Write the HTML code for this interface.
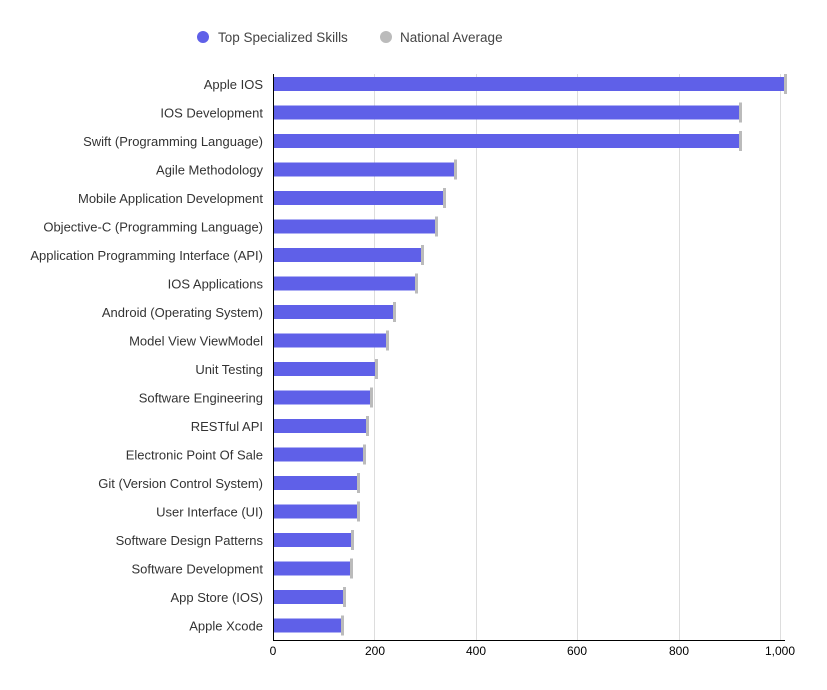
<!DOCTYPE html>
<html><head><style>
body{margin:0;background:#fff;}
svg text{font-family:"Liberation Sans",sans-serif;}
</style></head><body>
<svg width="827" height="685" xmlns="http://www.w3.org/2000/svg">
<circle cx="203" cy="37" r="6" fill="#5f60e8"/>
<text x="218" y="42" font-size="13.5" fill="#444">Top Specialized Skills</text>
<circle cx="386" cy="37" r="6" fill="#bbb"/>
<text x="400" y="42" font-size="13.5" fill="#444">National Average</text>
<g stroke="#ddd" stroke-width="1">
<line x1="374.5" y1="74" x2="374.5" y2="640"/>
<line x1="476.5" y1="74" x2="476.5" y2="640"/>
<line x1="577.5" y1="74" x2="577.5" y2="640"/>
<line x1="679.5" y1="74" x2="679.5" y2="640"/>
<line x1="780.5" y1="74" x2="780.5" y2="640"/>
</g>
<line x1="273.5" y1="74" x2="273.5" y2="641" stroke="#000"/>
<line x1="273" y1="640.5" x2="785" y2="640.5" stroke="#000"/>
<g font-size="12" fill="#000" text-anchor="middle">
<text x="273" y="655">0</text><text x="375" y="655">200</text><text x="476" y="655">400</text><text x="577" y="655">600</text><text x="679" y="655">800</text><text x="780" y="655">1,000</text>
</g>
<g font-size="13" fill="#333" text-anchor="end">
<text x="263" y="89">Apple IOS</text>
<text x="263" y="117.5">IOS Development</text>
<text x="263" y="146">Swift (Programming Language)</text>
<text x="263" y="174.5">Agile Methodology</text>
<text x="263" y="203">Mobile Application Development</text>
<text x="263" y="231.5">Objective-C (Programming Language)</text>
<text x="263" y="260">Application Programming Interface (API)</text>
<text x="263" y="288.5">IOS Applications</text>
<text x="263" y="317">Android (Operating System)</text>
<text x="263" y="345.5">Model View ViewModel</text>
<text x="263" y="374">Unit Testing</text>
<text x="263" y="402.5">Software Engineering</text>
<text x="263" y="431">RESTful API</text>
<text x="263" y="459.5">Electronic Point Of Sale</text>
<text x="263" y="488">Git (Version Control System)</text>
<text x="263" y="516.5">User Interface (UI)</text>
<text x="263" y="545">Software Design Patterns</text>
<text x="263" y="573.5">Software Development</text>
<text x="263" y="602">App Store (IOS)</text>
<text x="263" y="630.5">Apple Xcode</text>
</g>
<g>
<rect x="274" y="77" width="510" height="14" fill="#5f60e8"/><rect x="784" y="74" width="3" height="20" fill="#bbb"/>
<rect x="274" y="105.5" width="465" height="14" fill="#5f60e8"/><rect x="739" y="102.5" width="3" height="20" fill="#bbb"/>
<rect x="274" y="134" width="465" height="14" fill="#5f60e8"/><rect x="739" y="131" width="3" height="20" fill="#bbb"/>
<rect x="274" y="162.5" width="180" height="14" fill="#5f60e8"/><rect x="454" y="159.5" width="3" height="20" fill="#bbb"/>
<rect x="274" y="191" width="169" height="14" fill="#5f60e8"/><rect x="443" y="188" width="3" height="20" fill="#bbb"/>
<rect x="274" y="219.5" width="161" height="14" fill="#5f60e8"/><rect x="435" y="216.5" width="3" height="20" fill="#bbb"/>
<rect x="274" y="248" width="147" height="14" fill="#5f60e8"/><rect x="421" y="245" width="3" height="20" fill="#bbb"/>
<rect x="274" y="276.5" width="141" height="14" fill="#5f60e8"/><rect x="415" y="273.5" width="3" height="20" fill="#bbb"/>
<rect x="274" y="305" width="119" height="14" fill="#5f60e8"/><rect x="393" y="302" width="3" height="20" fill="#bbb"/>
<rect x="274" y="333.5" width="112" height="14" fill="#5f60e8"/><rect x="386" y="330.5" width="3" height="20" fill="#bbb"/>
<rect x="274" y="362" width="101" height="14" fill="#5f60e8"/><rect x="375" y="359" width="3" height="20" fill="#bbb"/>
<rect x="274" y="390.5" width="96" height="14" fill="#5f60e8"/><rect x="370" y="387.5" width="3" height="20" fill="#bbb"/>
<rect x="274" y="419" width="92" height="14" fill="#5f60e8"/><rect x="366" y="416" width="3" height="20" fill="#bbb"/>
<rect x="274" y="447.5" width="89" height="14" fill="#5f60e8"/><rect x="363" y="444.5" width="3" height="20" fill="#bbb"/>
<rect x="274" y="476" width="83" height="14" fill="#5f60e8"/><rect x="357" y="473" width="3" height="20" fill="#bbb"/>
<rect x="274" y="504.5" width="83" height="14" fill="#5f60e8"/><rect x="357" y="501.5" width="3" height="20" fill="#bbb"/>
<rect x="274" y="533" width="77" height="14" fill="#5f60e8"/><rect x="351" y="530" width="3" height="20" fill="#bbb"/>
<rect x="274" y="561.5" width="76" height="14" fill="#5f60e8"/><rect x="350" y="558.5" width="3" height="20" fill="#bbb"/>
<rect x="274" y="590" width="69" height="14" fill="#5f60e8"/><rect x="343" y="587" width="3" height="20" fill="#bbb"/>
<rect x="274" y="618.5" width="67" height="14" fill="#5f60e8"/><rect x="341" y="615.5" width="3" height="20" fill="#bbb"/>
</g>
</svg>
</body></html>
